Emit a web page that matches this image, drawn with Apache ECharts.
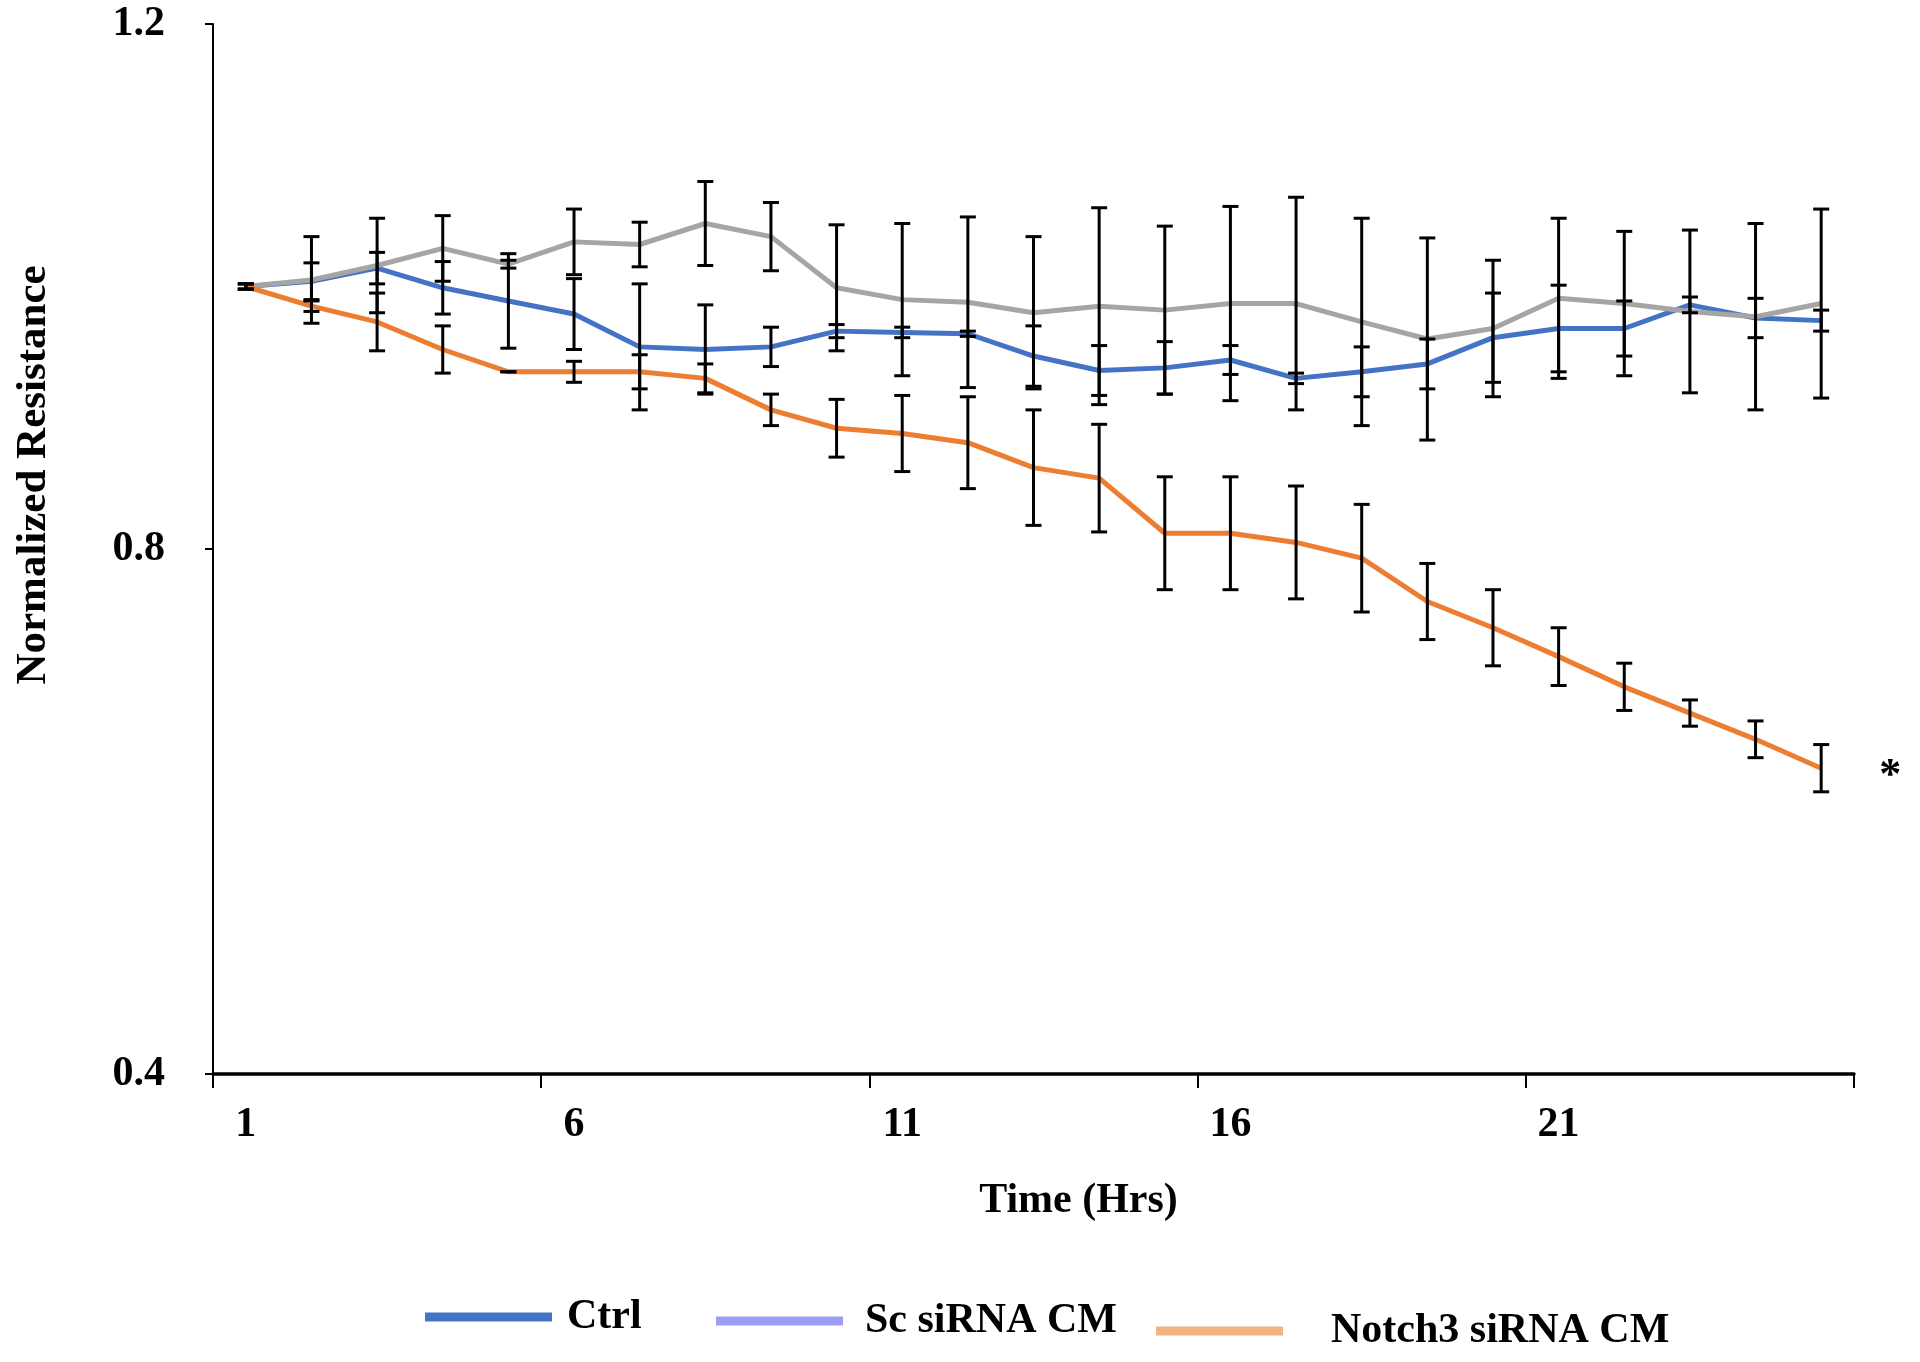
<!DOCTYPE html>
<html>
<head>
<meta charset="utf-8">
<script src="https://cdn.jsdelivr.net/npm/echarts@6/dist/echarts.min.js"></script>
<style>html,body{margin:0;padding:0;background:#fff}#chart{width:1920px;height:1362px}</style>
</head>
<body>
<div id="chart"></div>
<script>
// ---- data ----
const hours = ['1','2','3','4','5','6','7','8','9','10','11','12','13','14','15','16','17','18','19','20','21','22','23','24','25'];

const ctrl    = [1.000,1.004,1.014,0.999,0.989,0.979,0.954,0.952,0.954,0.966,0.965,0.964,0.947,0.936,0.938,0.944,0.930,0.935,0.941,0.961,0.968,0.968,0.986,0.976,0.974];
const ctrlErr = [0.002,0.014,0.012,0.020,0.036,0.027,0.048,0.034,0.015,0.005,0.004,0.002,0.023,0.019,0.020,0.011,0.004,0.019,0.019,0.034,0.033,0.021,0.006,0.015,0.008];

const sc      = [1.000,1.005,1.016,1.029,1.017,1.034,1.032,1.048,1.038,0.999,0.990,0.988,0.980,0.985,0.982,0.987,0.987,0.973,0.960,0.968,0.991,0.987,0.981,0.977,0.987];
const scErr   = [0.002,0.033,0.036,0.025,0.003,0.025,0.017,0.032,0.026,0.048,0.058,0.065,0.058,0.075,0.064,0.074,0.081,0.079,0.077,0.052,0.061,0.055,0.062,0.071,0.072];

const notch   = [1.000,0.985,0.973,0.952,0.935,0.935,0.935,0.930,0.906,0.892,0.888,0.881,0.862,0.854,0.812,0.812,0.805,0.793,0.760,0.740,0.718,0.695,0.675,0.655,0.633];
const notchErr= [0.002,0.004,0.022,0.018,0.000,0.008,0.013,0.011,0.012,0.022,0.029,0.035,0.044,0.041,0.043,0.043,0.043,0.041,0.029,0.029,0.022,0.018,0.010,0.014,0.018];

const yTicks = [0.4, 0.8, 1.2];
const seriesNames = ['Ctrl', 'Sc siRNA CM', 'Notch3 siRNA CM'];

// ---- styling ----
const FONT = 'Liberation Serif';
const lineColors = ['#4472C4', '#A5A5A5', '#ED7D31'];
const legendColors = ['#4472C4', '#9D9DF5', '#F4B183'];

function errData(vals, errs) {
  return vals.map((v, i) => [i, v - errs[i], v + errs[i]]);
}

function errRender(params, api) {
  const x = api.value(0);
  const lo = api.coord([x, api.value(1)]);
  const hi = api.coord([x, api.value(2)]);
  const w = 8;
  const style = { stroke: '#000', lineWidth: 3 };
  return {
    type: 'group',
    children: [
      { type: 'line', shape: { x1: hi[0], y1: hi[1], x2: lo[0], y2: lo[1] }, style: style },
      { type: 'line', shape: { x1: hi[0] - w, y1: hi[1], x2: hi[0] + w, y2: hi[1] }, style: style },
      { type: 'line', shape: { x1: lo[0] - w, y1: lo[1], x2: lo[0] + w, y2: lo[1] }, style: style }
    ]
  };
}

function legendFor(idx, left, top, textPad) {
  return {
    data: [{ name: seriesNames[idx], icon: 'rect', itemStyle: { color: legendColors[idx] } }],
    left: left, top: top, padding: 0,
    itemWidth: 127, itemHeight: 9,
    selectedMode: false,
    textStyle: { fontFamily: FONT, fontSize: 42, fontWeight: 'bold', color: '#000', padding: [0, 0, 0, textPad] }
  };
}

const chart = echarts.init(document.getElementById('chart'), null, { renderer: 'canvas' });
chart.setOption({
  animation: false,
  backgroundColor: '#fff',
  grid: { left: 213, right: 66, top: 24, bottom: 288, containLabel: false },
  legend: [
    legendFor(0, 425, 1296, 10),
    legendFor(1, 716, 1300, 17),
    legendFor(2, 1156, 1310, 43)
  ],
  xAxis: {
    type: 'category',
    data: hours,
    boundaryGap: true,
    name: 'Time (Hrs)',
    nameLocation: 'middle',
    nameGap: 106,
    nameTextStyle: { fontFamily: FONT, fontSize: 42, fontWeight: 'bold', color: '#000', padding: [0, 0, 0, 90] },
    axisLine: { lineStyle: { color: '#000', width: 3.5 } },
    axisTick: { show: true, interval: 4, length: 14, lineStyle: { color: '#000', width: 2 } },
    axisLabel: { interval: 4, margin: 30, fontFamily: FONT, fontSize: 42, fontWeight: 'bold', color: '#000' },
    splitLine: { show: false }
  },
  yAxis: {
    type: 'value',
    min: yTicks[0], max: yTicks[yTicks.length - 1], interval: 0.4,
    name: 'Normalized Resistance',
    nameLocation: 'middle',
    nameGap: 158,
    nameTextStyle: { fontFamily: FONT, fontSize: 43, fontWeight: 'bold', color: '#000', padding: [0, 0, 0, 148] },
    axisLine: { show: true, lineStyle: { color: '#000', width: 2 } },
    axisTick: { show: true, length: 8, lineStyle: { color: '#000', width: 2 } },
    axisLabel: { margin: 48, fontFamily: FONT, fontSize: 42, fontWeight: 'bold', color: '#000',
                 formatter: v => v.toFixed(1) },
    splitLine: { show: false }
  },
  series: [
    { name: seriesNames[0], type: 'line', data: ctrl, color: lineColors[0], showSymbol: false, symbol: 'none',
      lineStyle: { width: 5, color: lineColors[0] }, z: 2 },
    { name: seriesNames[1], type: 'line', data: sc, color: lineColors[1], showSymbol: false, symbol: 'none',
      lineStyle: { width: 5, color: lineColors[1] }, z: 2 },
    { name: seriesNames[2], type: 'line', data: notch, color: lineColors[2], showSymbol: false, symbol: 'none',
      lineStyle: { width: 5, color: lineColors[2] }, z: 2,
      endLabel: { show: true, formatter: '*', distance: 58, offset: [0, 8],
                  fontFamily: FONT, fontSize: 44, fontWeight: 'bold', color: '#000' } },
    { type: 'custom', name: 'err-ctrl', renderItem: errRender, data: errData(ctrl, ctrlErr),
      encode: { x: 0, y: [1, 2] }, z: 5, silent: true },
    { type: 'custom', name: 'err-sc', renderItem: errRender, data: errData(sc, scErr),
      encode: { x: 0, y: [1, 2] }, z: 5, silent: true },
    { type: 'custom', name: 'err-notch', renderItem: errRender, data: errData(notch, notchErr),
      encode: { x: 0, y: [1, 2] }, z: 5, silent: true }
  ]
});
</script>
</body>
</html>
